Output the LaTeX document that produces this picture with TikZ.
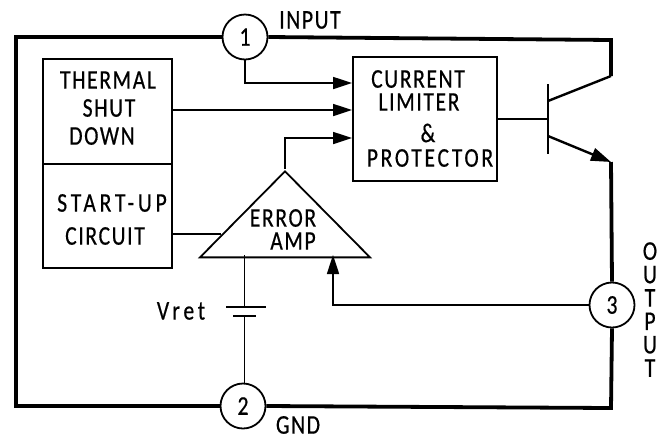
\documentclass[tikz,border=0pt]{standalone}
\usepackage{fontspec}
\usepackage{tikz}
\usetikzlibrary{shapes.geometric, arrows.meta, positioning}
\newfontfamily\dinfont[FakeStretch=0.8, LetterSpace=6, FakeBold=0.5]{Carlito}
\tikzset{
  pin/.style={circle, draw=black, line width=1.8pt, minimum size=45pt, inner sep=0pt, fill=white, font=\dinfont\fontsize{27}{27}\selectfont},
  block/.style={rectangle, draw=black, line width=1.7pt, inner sep=0pt, anchor=north west},
  caption/.style={inner sep=0pt, font=\dinfont\fontsize{27}{23.4}\selectfont},
  wide/.style={font=\dinfont\fontsize{27}{27}\selectfont\addfontfeature{LetterSpace=#1}},
  amp/.style={isosceles triangle, shape border rotate=90, isosceles triangle stretches, draw=black, line width=1.8pt, minimum width=170pt, minimum height=86pt, inner sep=0pt, anchor=apex},
  rail/.style={line width=3.8pt, line join=miter},
  wire/.style={line width=1.7pt},
  lead/.style={line width=2.4pt},
  arrow/.style={-{Triangle[length=19pt, width=12pt]}, line width=1.7pt}
}
\begin{document}
\begin{tikzpicture}[x=1pt, y=-1pt]
\useasboundingbox (0,0) rectangle (668,440);

% Terminals
\node (pinone) [pin] at (245,37) {1};
\node (pintwo) [pin] at (243,406) {2};
\node (pinthree) [pin] at (612,305) {3};

% Blocks
\node (thermal) [block, minimum width=129pt, minimum height=105pt] at (42,58) {};
\node (startup) [block, minimum width=129pt, minimum height=104pt] at (42,163) {};
\node (limiter) [block, minimum width=144pt, minimum height=124pt] at (352,56) {};
\node (erroramp) [amp] at (285,169) {};

% Corner points and transistor
\coordinate (railtopleft) at (16,37);
\coordinate (railbotleft) at (16,406);
\coordinate (railtopright) at (611,40);
\coordinate (railbotright) at (611,408);
\coordinate (collector) at (611,76);
\coordinate (emitter) at (611,162);
\coordinate (bartop) at (548,84);
\coordinate (barbot) at (548,154);
\coordinate (barcol) at (548,101);
\coordinate (barbase) at (548,119);
\coordinate (baremit) at (548,136);
\coordinate (ampin) at (221,234);
\coordinate (ampref) at (244.5,255);
\coordinate (ampfb) at (333,255);
\coordinate (platelongl) at (226,307);
\coordinate (platelongr) at (266,307);
\coordinate (plateshortl) at (233,316);
\coordinate (plateshortr) at (256,316);

% Rails
\draw [rail] (pinone.east) -- (railtopright) -- (collector);
\draw [rail] (pinone.west) -- (railtopleft) -- (railbotleft) -- (pintwo.west);
\draw [rail] (pintwo.east) -- (railbotright) -- (pinthree.south);
\draw [rail] (emitter) -- (pinthree.north);

% Transistor
\draw [lead] (bartop) -- (barbot);
\draw [lead] (barcol) -- (collector);
\draw [lead, -{Triangle[length=20pt, width=13pt]}] (baremit) -- (emitter);
\draw [wire] (limiter.east |- barbase) -- (barbase);

% Arrows
\draw [arrow] (pinone.south) |- (limiter.west |- 0,83);
\draw [arrow] (thermal.east |- 0,110) -- (limiter.west |- 0,110);
\draw [arrow] (erroramp.apex) |- (limiter.west |- 0,138);
\draw [arrow] (pinthree.west) -| (ampfb);
\draw [wire] (startup.east |- ampin) -- (ampin);

% Reference cell
\draw [wire] (ampref) -- (platelongl -| ampref);
\draw [wire] (platelongl) -- (platelongr);
\draw [wire] (plateshortl) -- (plateshortr);
\draw [wire] (plateshortl -| ampref) -- (pintwo.north -| ampref);

% Labels
\node (thermaltxt) [caption] at (108,80) {THERMAL};
\node (shuttxt) [caption] at (109,108) {SHUT};
\node (downtxt) [caption] at (102,136) {DOWN};
\node (starttxt) [caption, wide=14] at (112,203) {START-UP};
\node (circuittxt) [caption] at (105,236) {CIRCUIT};
\node (currenttxt) [caption] at (418,79) {CURRENT};
\node (limitertxt) [caption] at (419,102) {LIMITER};
\node (andtxt) [caption] at (428,133) {\&};
\node (protectortxt) [caption, wide=10] at (430,158) {PROTECTOR};
\node (errortxt) [caption] at (283,218) {ERROR};
\node (amptxt) [caption] at (293,241) {AMP};
\node (inputtxt) [caption] at (310,20) {INPUT};
\node (gndtxt) [caption] at (298,425) {GND};
\node (vreftxt) [caption, wide=14] at (181,311) {Vret};
\node (outputtxt) [caption, align=center] at (650,309.5) {O\\U\\T\\P\\U\\T};
\end{tikzpicture}
\end{document}
